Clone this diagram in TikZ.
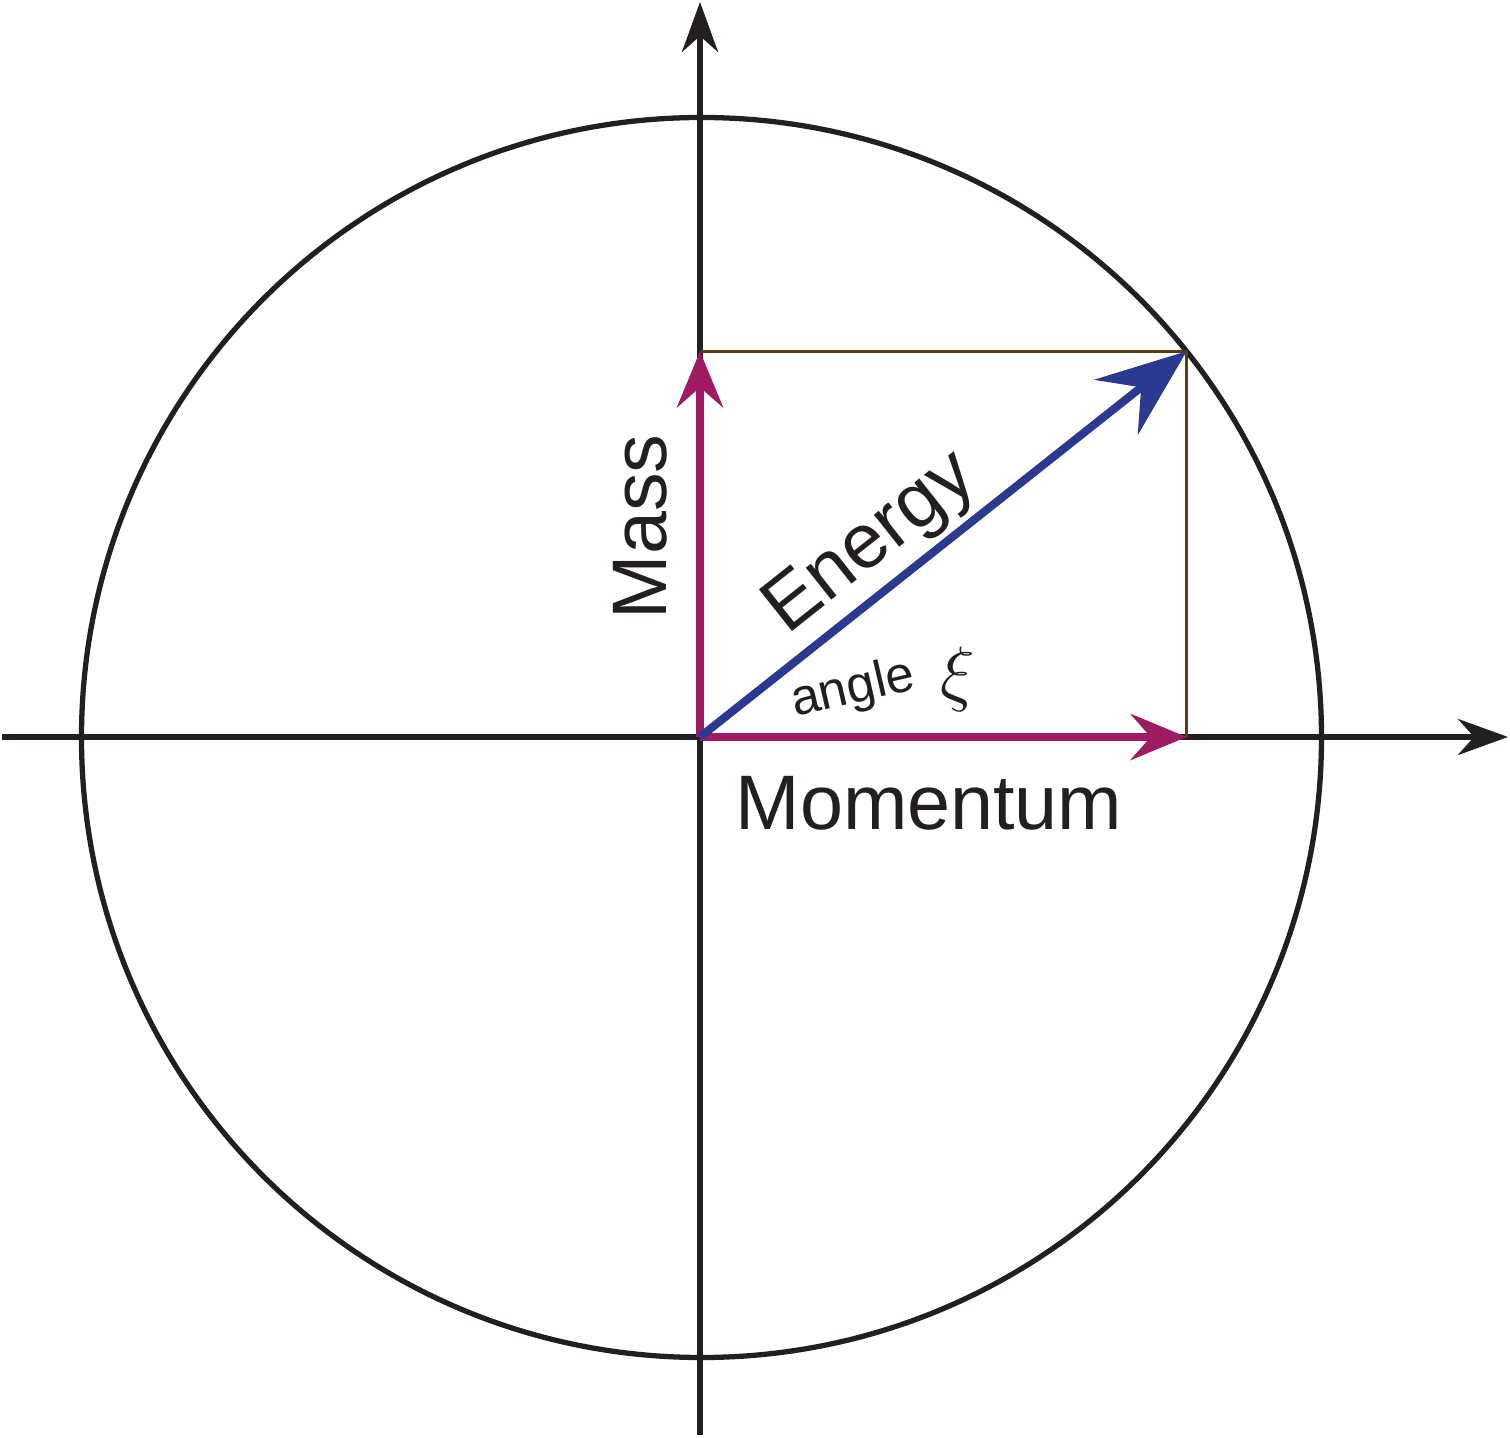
\documentclass[tikz,border=0pt]{standalone}
\usepackage{fontspec}
\setmainfont{Liberation Sans}
\usetikzlibrary{arrows.meta, calc}

\definecolor{axisblack}{RGB}{35,31,32}
\definecolor{massred}{RGB}{158,27,99}
\definecolor{energyblue}{RGB}{43,57,144}
\definecolor{boxbrown}{RGB}{96,57,19}

\begin{document}
\begin{tikzpicture}[
  axis/.style = {draw=axisblack, line width=1.5pt,
    -{Stealth[length=5mm, width=3.6mm, inset=1.6mm]}},
  part/.style = {draw=massred, line width=2.4pt,
    -{Stealth[length=5.6mm, width=4.6mm, inset=2mm]}},
  energy/.style = {draw=energyblue, line width=2.3pt,
    -{Stealth[length=9mm, width=7mm, inset=3.2mm]}},
  label/.style = {text=axisblack, inner sep=0pt, font=\fontsize{22}{26}\selectfont}]

  \useasboundingbox (-7.00,-7.01) rectangle (8.10,7.37);

  \coordinate (O) at (0,0);
  \coordinate (E) at (38.4:6.21);
  \coordinate (M) at (O |- E);
  \coordinate (P) at (E |- O);
  \coordinate (left) at (-6.98,0);
  \coordinate (right) at (8.08,0);
  \coordinate (bottom) at (0,-6.98);
  \coordinate (top) at (0,7.35);

  \draw[axisblack, line width=1.5pt] (0.015,-0.005) circle (6.2);
  \draw[axis] (left) -- (right);
  \draw[axis] (bottom) -- (top);

  \draw[boxbrown, line width=0.9pt] (M) -- (E) -- (P);

  \draw[part] (O) -- (P);
  \draw[part] (O) -- (M);
  \draw[energy] (O) -- (E);

  \node[label] (mass) at (-0.6,2.1) [rotate=90] {Mass};
  \node[label] (momentum) at (2.29,-0.66) {Momentum};
  \node[label] (energylabel) at (1.72,1.92) [rotate=38.4] {Energy};
  \node[label, font=\fontsize{14.5}{17}\selectfont] (angle) at (1.53,0.47) [rotate=13] {angle};
  \node[label, font=\fontsize{22}{26}\selectfont] (xi) at (2.58,0.58) {$\xi$};
\end{tikzpicture}
\end{document}
